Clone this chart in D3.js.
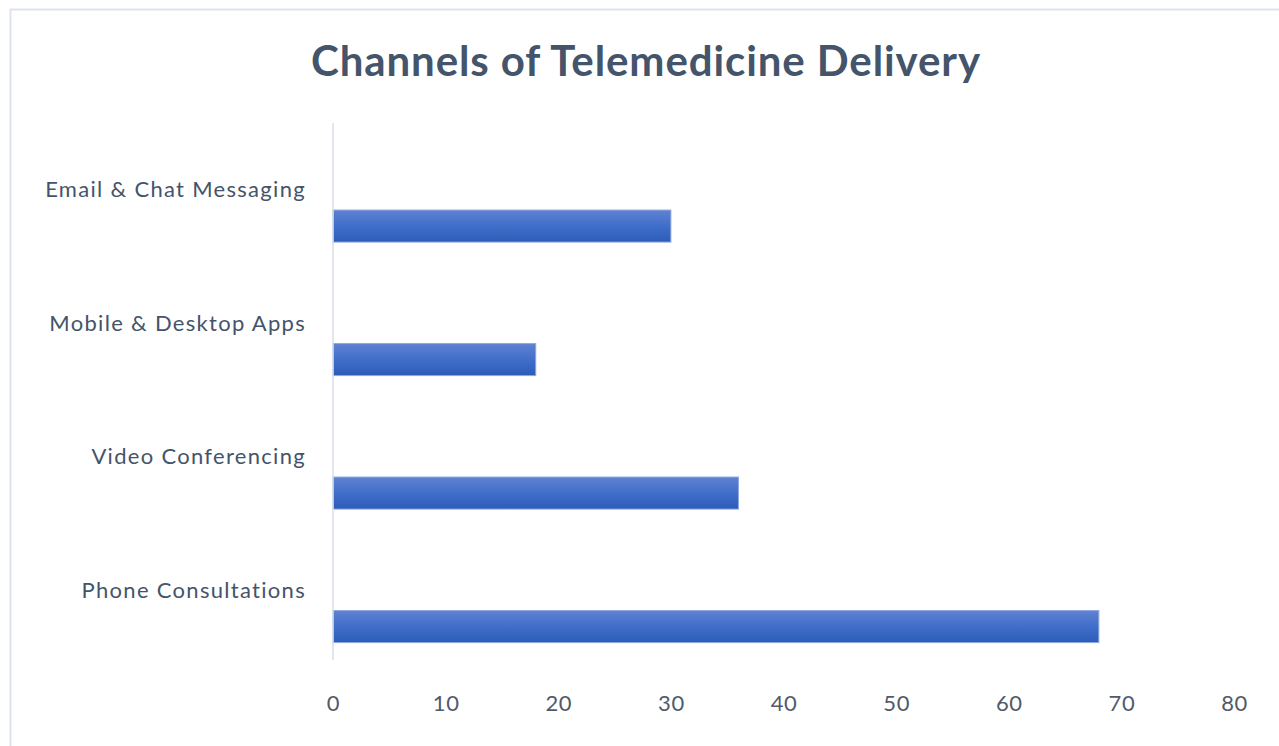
<!DOCTYPE html>
<html>
<head>
<meta charset="utf-8">
<script src="https://cdn.jsdelivr.net/npm/d3@7"></script>
<style>
  html, body { margin: 0; padding: 0; background: #fff; }
  svg { display: block; }
</style>
</head>
<body>
<svg id="chart" width="1279" height="746"></svg>
<script>
// Delivery channels, listed top to bottom
const categories = [
  "Email & Chat Messaging",
  "Mobile & Desktop Apps",
  "Video Conferencing",
  "Phone Consultations"
];
const values = [30, 18, 36, 68];
const tickValues = [0, 10, 20, 30, 40, 50, 60, 70, 80];
const title = "Channels of Telemedicine Delivery";

const svg = d3.select("#chart");
const W = 1279, H = 746;
const font = "Lato, 'Open Sans', sans-serif";

// chart frame
svg.append("rect")
  .attr("x", 10.5).attr("y", 9.5)
  .attr("width", W).attr("height", H)
  .attr("fill", "#fff")
  .attr("stroke", "#dde3ec").attr("stroke-width", 2);

const plot = { left: 333, right: 1234, top: 123, bottom: 657 };

const x = d3.scaleLinear().domain([0, 80]).range([plot.left, plot.right]);
const y = d3.scaleBand().domain(categories).range([plot.top, plot.bottom]);

// gradient fill for bars
const defs = svg.append("defs");
const grad = defs.append("linearGradient")
  .attr("id", "barGrad").attr("x1", 0).attr("y1", 0).attr("x2", 0).attr("y2", 1);
grad.append("stop").attr("offset", "0%").attr("stop-color", "#5f82d2");
grad.append("stop").attr("offset", "55%").attr("stop-color", "#3e6cc9");
grad.append("stop").attr("offset", "100%").attr("stop-color", "#2c5bb8");

// title
svg.append("text")
  .attr("x", 646).attr("y", 76)
  .attr("text-anchor", "middle")
  .attr("font-family", font)
  .attr("font-weight", 700)
  .attr("font-size", 42)
  .attr("letter-spacing", 0.9)
  .attr("fill", "#44546a")
  .text(title);

// value axis ticks (labels only)
const xAxis = d3.axisBottom(x).tickValues(tickValues).tickSize(0).tickPadding(0);
const gx = svg.append("g")
  .attr("transform", `translate(0,${plot.bottom + 38})`)
  .call(xAxis);
gx.select(".domain").remove();
gx.selectAll("text")
  .attr("font-family", font)
  .attr("font-size", 22)
  .attr("letter-spacing", 0.6)
  .attr("fill", "#515a6b")
  .attr("dy", "0.71em");

// bars sit in the lower part of each category band
const barOffset = y.bandwidth() * 0.652;
const barHeight = y.bandwidth() * 0.24;

svg.append("g").selectAll("rect")
  .data(categories.map((c, i) => ({ c, v: values[i] })))
  .join("rect")
  .attr("x", x(0))
  .attr("y", d => y(d.c) + barOffset)
  .attr("width", d => x(d.v) - x(0))
  .attr("height", barHeight)
  .attr("fill", "url(#barGrad)")
  .attr("stroke", "#8ea7df")
  .attr("stroke-width", 1);

// category axis line
svg.append("line")
  .attr("x1", x(0)).attr("x2", x(0))
  .attr("y1", plot.top).attr("y2", plot.bottom + 3)
  .attr("stroke", "#d9dee7").attr("stroke-width", 1.5);

// category labels, centred in each band
svg.append("g").selectAll("text")
  .data(categories)
  .join("text")
  .attr("x", 306)
  .attr("y", d => y(d) + y.bandwidth() / 2)
  .attr("dy", "0.35em")
  .attr("text-anchor", "end")
  .attr("font-family", font)
  .attr("font-size", 22)
  .attr("letter-spacing", 1.3)
  .attr("fill", "#44546a")
  .text(d => d);
</script>
</body>
</html>
